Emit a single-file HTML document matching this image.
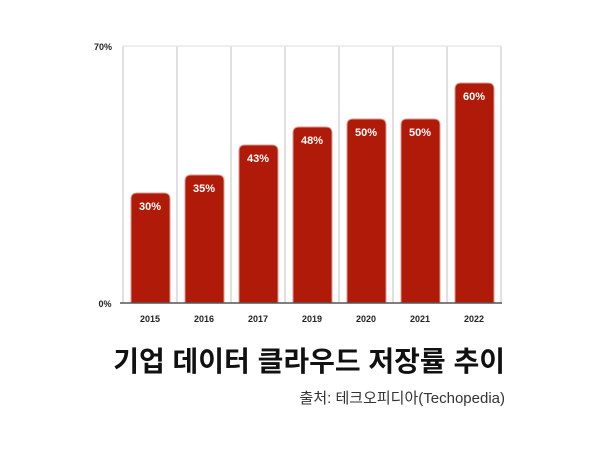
<!DOCTYPE html>
<html><head><meta charset="utf-8"><style>
body{margin:0;width:600px;height:452px;background:#fff;overflow:hidden;position:relative;font-family:"Liberation Sans","Noto Sans CJK KR",sans-serif}
.t{position:absolute;white-space:nowrap}
</style></head><body>
<svg width="600" height="452" style="position:absolute;left:0;top:0">
<g stroke="#d6d6d6" stroke-width="1.5">
<line x1="123" y1="46" x2="123" y2="303"/><line x1="177" y1="46" x2="177" y2="303"/><line x1="231" y1="46" x2="231" y2="303"/><line x1="285" y1="46" x2="285" y2="303"/><line x1="339" y1="46" x2="339" y2="303"/><line x1="393" y1="46" x2="393" y2="303"/><line x1="447" y1="46" x2="447" y2="303"/><line x1="501" y1="46" x2="501" y2="303"/>
<line x1="123" y1="46" x2="501" y2="46" stroke="#e8e8e8"/>
</g>
<g fill="#b01a08" stroke="#d99a90" stroke-width="1">
<path d="M131,303 V199 q0,-6 6,-6 h27 q6,0 6,6 V303Z"/>
<path d="M185,303 V181 q0,-6 6,-6 h27 q6,0 6,6 V303Z"/>
<path d="M239,303 V151 q0,-6 6,-6 h27 q6,0 6,6 V303Z"/>
<path d="M293,303 V133 q0,-6 6,-6 h27 q6,0 6,6 V303Z"/>
<path d="M347,303 V125 q0,-6 6,-6 h27 q6,0 6,6 V303Z"/>
<path d="M401,303 V125 q0,-6 6,-6 h27 q6,0 6,6 V303Z"/>
<path d="M455,303 V89 q0,-6 6,-6 h27 q6,0 6,6 V303Z"/>
</g>
<line x1="120" y1="303" x2="502" y2="303" stroke="#555" stroke-width="1.5"/>
<g fill="#fff" font-size="11" font-weight="bold" text-anchor="middle" font-family="Liberation Sans,sans-serif">
<text x="150" y="210">30%</text><text x="204" y="192">35%</text><text x="258" y="162">43%</text><text x="312" y="144">48%</text><text x="366" y="136">50%</text><text x="420" y="136">50%</text><text x="474" y="100">60%</text>
</g>
<g fill="#222" font-size="9" font-weight="bold" text-anchor="middle" font-family="Liberation Sans,sans-serif">
<text x="150" y="322">2015</text><text x="204" y="322">2016</text><text x="258" y="322">2017</text><text x="312" y="322">2019</text><text x="366" y="322">2020</text><text x="420" y="322">2021</text><text x="474" y="322">2022</text>
<text x="103" y="50">70%</text><text x="105" y="307">0%</text>
</g>
</svg>
<div class="t" style="right:95px;top:340px;font-size:28px;font-weight:bold;color:#111">기업 데이터 클라우드 저장률 추이</div>
<div class="t" style="right:95px;top:387px;font-size:15px;color:#333">출처: 테크오피디아(Techopedia)</div>
</body></html>
